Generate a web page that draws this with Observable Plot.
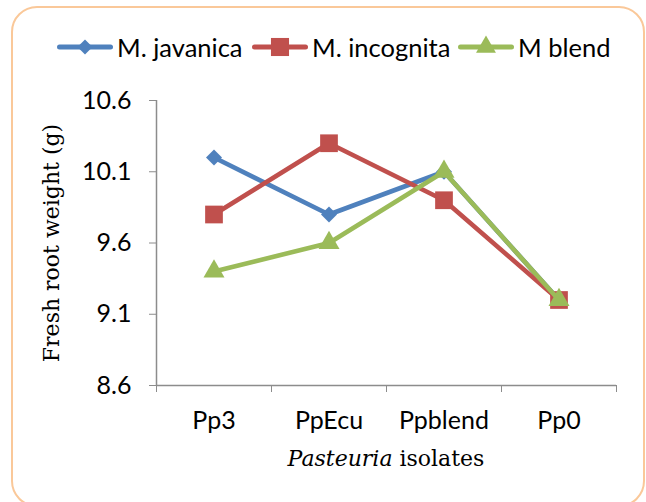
<!DOCTYPE html>
<html>
<head>
<meta charset="utf-8">
<script src="https://cdn.jsdelivr.net/npm/d3@7"></script>
<script src="https://cdn.jsdelivr.net/npm/@observablehq/plot@0.6"></script>
<style>
  body { margin: 0; background: #fff; }
  #wrap { position: relative; width: 646px; height: 502px; overflow: hidden; font-family: Lato, "Open Sans", sans-serif; }
  #border { position: absolute; left: 11px; top: 6px; width: 630px; height: 497px; border: 2.5px solid #FAC899; border-radius: 26px; }
  #legend { position: absolute; left: 0; top: 31px; width: 646px; height: 32px; font-size: 25.5px; color: #000; white-space: nowrap; }
  .item { position: absolute; top: 0; height: 32px; display: flex; align-items: center; }
  .item svg { position: absolute; top: 4px; }
  .item span { position: absolute; top: 0; line-height: 32px; }
  #xtitle { position: absolute; left: 156px; width: 460px; top: 446px; text-align: center; font-family: "DejaVu Serif", serif; font-size: 22px; color: #000; }
  #chart { position: absolute; left: 0; top: 0; }
</style>
</head>
<body>
<div id="wrap">
  <div id="border"></div>
  <div id="chart"></div>
  <div id="legend"></div>
  <div id="xtitle"><i>Pasteuria</i> isolates</div>
</div>
<script>
const categories = ["Pp3", "PpEcu", "Ppblend", "Pp0"];
const seriesNames = ["M. javanica", "M. incognita", "M blend"];
const javanica = [10.2, 9.8, 10.1, 9.2];
const incognita = [9.8, 10.3, 9.9, 9.2];
const mblend = [9.4, 9.6, 10.1, 9.2];
const yTicks = [8.6, 9.1, 9.6, 10.1, 10.6];
const colors = ["#4F81BD", "#C0504D", "#9BBB59"];
const symbols = ["diamond2", "square", "triangle"];
const radii = [7.2, 10.0, 7.8];
const legendRadii = [6.8, 10.2, 7.4];
const legendLeft = [57, 252, 458];
const yTitle = "Fresh root weight (g)";

const valuesBySeries = [javanica, incognita, mblend];
const data = seriesNames.map((name, s) => valuesBySeries[s].map((v, i) => ({series: name, i, cat: categories[i], value: v})));
const boundaries = d3.range(categories.length + 1).map(k => k - 0.5);
const sans = "Lato, 'Open Sans', sans-serif";

const marks = [
  Plot.ruleY([yTicks[0]], {stroke: "#8C8C8C", strokeWidth: 1.5}),
  Plot.ruleX([boundaries[0]], {stroke: "#8C8C8C", strokeWidth: 1.5}),
  Plot.axisY({ticks: yTicks, tickSize: 7, tickPadding: 18, tickFormat: d3.format(".1f"), label: null, stroke: "#8C8C8C", fontSize: 25, fontFamily: sans, fill: "#000"}),
  Plot.axisX({ticks: boundaries, tickSize: 7, tickFormat: () => "", label: null, stroke: "#8C8C8C"}),
  Plot.axisX({ticks: d3.range(categories.length), tickSize: 0, tickPadding: 26, tickFormat: i => categories[i], label: null, fontSize: 25, fontFamily: sans, fill: "#000"}),
  Plot.text([yTitle], {frameAnchor: "left", textAnchor: "middle", rotate: -90, dx: -105, fontSize: 22, fontFamily: "'DejaVu Serif', serif", fill: "#000"})
];
data.forEach((d, s) => {
  marks.push(Plot.line(d, {x: "i", y: "value", stroke: colors[s], strokeWidth: 4.6, strokeLinejoin: "round", strokeLinecap: "round"}));
  marks.push(Plot.dot(d, {x: "i", y: "value", symbol: () => symbols[s], r: radii[s], fill: colors[s], stroke: "none"}));
});

const chart = Plot.plot({
  width: 646, height: 502,
  marginLeft: 156, marginRight: 30, marginTop: 100, marginBottom: 117,
  x: {type: "linear", domain: [boundaries[0], boundaries[boundaries.length - 1]], axis: null},
  y: {domain: [yTicks[0], yTicks[yTicks.length - 1]], axis: null},
  symbol: {type: "identity"},
  style: {background: "transparent", overflow: "visible"},
  marks
});
document.getElementById("chart").appendChild(chart);

// legend
const legend = d3.select("#legend");
seriesNames.forEach((name, s) => {
  const item = legend.append("div").attr("class", "item").style("left", legendLeft[s] + "px");
  const svg = item.append("svg").attr("width", 56).attr("height", 24).style("left", "0px");
  svg.append("line").attr("x1", 2.5).attr("x2", 53.5).attr("y1", 12).attr("y2", 12)
    .attr("stroke", colors[s]).attr("stroke-width", 5).attr("stroke-linecap", "round");
  const symType = s === 0 ? d3.symbolDiamond2 : s === 1 ? d3.symbolSquare : d3.symbolTriangle;
  svg.append("path").attr("transform", "translate(28,12)")
    .attr("d", d3.symbol(symType, legendRadii[s] * legendRadii[s] * Math.PI)())
    .attr("fill", colors[s]);
  item.append("span").style("left", "60px").text(name);
});
</script>
</body>
</html>
